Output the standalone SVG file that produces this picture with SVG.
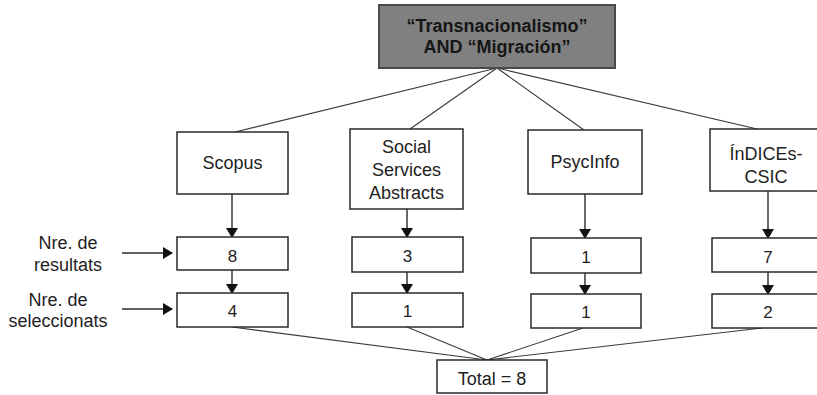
<svg xmlns="http://www.w3.org/2000/svg" width="817" height="395" viewBox="0 0 817 395">
<style>
.box{fill:#fff;stroke:#2a2a2a;stroke-width:1.5}
.top{fill:#808080;stroke:#4a4a4a;stroke-width:2}
.t{font-family:"Liberation Sans",Arial,sans-serif;font-size:18px;fill:#1e1e1e;text-anchor:middle}
.tb{font-family:"Liberation Sans",Arial,sans-serif;font-size:18px;font-weight:bold;fill:#161616;text-anchor:middle}
.n{font-family:"Liberation Sans",Arial,sans-serif;font-size:17px;fill:#1e1e1e;text-anchor:middle}
.line{stroke:#3a3a3a;stroke-width:1.1;fill:none}
.arr{stroke:#2a2a2a;stroke-width:1.4;fill:none;marker-end:url(#ah)}
</style>
<defs>
<marker id="ah" markerWidth="12" markerHeight="12" refX="9" refY="6" orient="auto" markerUnits="userSpaceOnUse">
<path d="M0,0 L10,6 L0,12 z" fill="#111"/>
</marker>
</defs>
<rect width="817" height="395" fill="#fff"/>
<g id="connectors">
<line class="line" x1="497" y1="68" x2="235" y2="132"/>
<line class="line" x1="497" y1="68" x2="410" y2="129"/>
<line class="line" x1="497" y1="68" x2="584" y2="130"/>
<line class="line" x1="497" y1="68" x2="757" y2="129"/>
<line class="arr" x1="232" y1="194" x2="232" y2="237"/>
<line class="arr" x1="407" y1="209" x2="407" y2="237"/>
<line class="arr" x1="585" y1="194" x2="585" y2="238"/>
<line class="arr" x1="768" y1="191" x2="768" y2="238"/>
<line class="arr" x1="232" y1="270" x2="232" y2="293"/>
<line class="arr" x1="407" y1="272" x2="407" y2="293"/>
<line class="arr" x1="585" y1="273" x2="585" y2="294"/>
<line class="arr" x1="768" y1="272" x2="768" y2="294"/>
<line class="arr" x1="122" y1="253" x2="172" y2="253"/>
<line class="arr" x1="122" y1="309" x2="172" y2="309"/>
<line class="line" x1="232" y1="327" x2="487" y2="360"/>
<line class="line" x1="407" y1="327" x2="487" y2="360"/>
<line class="line" x1="583" y1="328" x2="487" y2="360"/>
<line class="line" x1="762" y1="328" x2="487" y2="360"/>
</g>
<g id="query">
<rect class="top" x="379" y="5" width="236" height="63"/>
<text class="tb" x="497" y="32">“Transnacionalismo”</text>
<text class="tb" x="497" y="53">AND “Migración”</text>
</g>
<g id="scopus">
<rect class="box" x="177" y="132" width="111" height="62"/>
<text class="t" x="232.5" y="169">Scopus</text>
</g>
<g id="social">
<rect class="box" x="350" y="129" width="113" height="80"/>
<text class="t" x="406.5" y="153">Social</text>
<text class="t" x="406.5" y="176">Services</text>
<text class="t" x="406.5" y="199">Abstracts</text>
</g>
<g id="psycinfo">
<rect class="box" x="528" y="130" width="114" height="64"/>
<text class="t" x="585" y="168">PsycInfo</text>
</g>
<g id="indices">
<rect class="box" x="710" y="129" width="116" height="62"/>
<text class="t" x="766" y="160">ÍnDICEs-</text>
<text class="t" x="766" y="183">CSIC</text>
</g>
<g id="label-resultats">
<text class="t" x="68" y="249">Nre. de</text>
<text class="t" x="68" y="271">resultats</text>
</g>
<g id="label-seleccionats">
<text class="t" x="58" y="306">Nre. de</text>
<text class="t" x="58" y="327">seleccionats</text>
</g>
<g id="scopus-res"><rect class="box" x="177" y="237" width="111" height="33"/><text class="n" x="232.5" y="262">8</text></g>
<g id="scopus-sel"><rect class="box" x="177" y="293" width="111" height="34"/><text class="n" x="232.5" y="317">4</text></g>
<g id="social-res"><rect class="box" x="352" y="237" width="111" height="35"/><text class="n" x="407.5" y="262">3</text></g>
<g id="social-sel"><rect class="box" x="352" y="293" width="111" height="34"/><text class="n" x="407.5" y="317">1</text></g>
<g id="psyc-res"><rect class="box" x="531" y="238" width="110" height="35"/><text class="n" x="586" y="263">1</text></g>
<g id="psyc-sel"><rect class="box" x="531" y="294" width="110" height="34"/><text class="n" x="586" y="318">1</text></g>
<g id="indices-res"><rect class="box" x="712" y="238" width="114" height="34"/><text class="n" x="768" y="263">7</text></g>
<g id="indices-sel"><rect class="box" x="712" y="294" width="114" height="34"/><text class="n" x="768" y="318">2</text></g>
<g id="total">
<rect class="box" x="437" y="360" width="110" height="33"/>
<text class="t" x="492" y="385">Total = 8</text>
</g>
</svg>
